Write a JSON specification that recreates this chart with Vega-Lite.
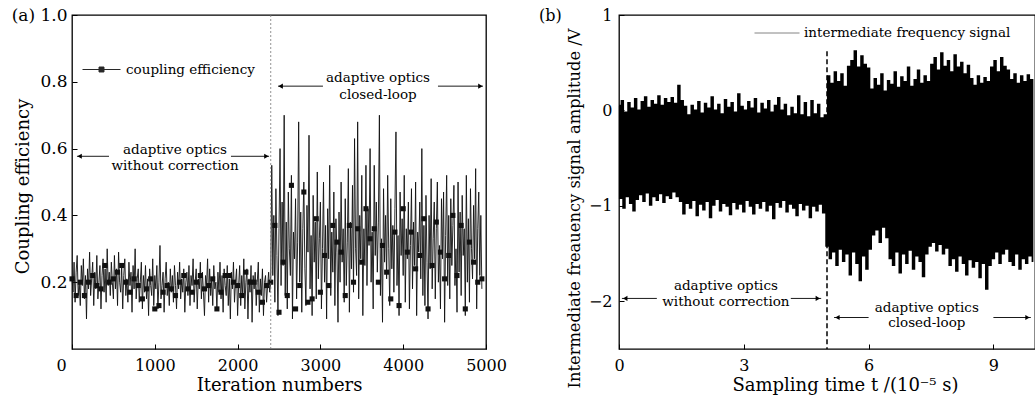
{
  "$schema": "https://vega.github.io/schema/vega-lite/v6.json",
  "background": "white",
  "padding": {"left": 10, "top": 5, "right": 0, "bottom": 0},
  "spacing": 29,
  "config": {
    "font": "DejaVu Serif",
    "view": {"stroke": "black", "strokeWidth": 1.3},
    "axis": {
      "labelFont": "DejaVu Serif", "labelFontSize": 16, "labelColor": "black",
      "titleFont": "DejaVu Serif", "titleFontSize": 18, "titleFontWeight": "normal", "titleColor": "black",
      "tickColor": "black", "tickSize": -5, "tickWidth": 1, "domain": false, "grid": false, "labelFlush": false
    },
    "legend": {"labelFont": "DejaVu Serif", "labelFontSize": 13.5, "labelColor": "black", "labelLimit": 0},
    "text": {"font": "DejaVu Serif", "fontSize": 13.5, "color": "black"}
  },
  "resolve": {"scale": {"color": "independent"}, "legend": {"color": "independent"}},
  "datasets": {
    "a_line": [
      {"x":0,"y":0.21},{"x":12.5,"y":0.17},{"x":25,"y":0.26},{"x":37.5,"y":0.14},{"x":50,"y":0.23},{"x":62.5,"y":0.28},{"x":75,"y":0.16},{"x":87.5,"y":0.2},
      {"x":100,"y":0.13},{"x":112.5,"y":0.25},{"x":125,"y":0.19},{"x":137.5,"y":0.27},{"x":150,"y":0.15},{"x":162.5,"y":0.22},{"x":175,"y":0.09},{"x":187.5,"y":0.24},
      {"x":200,"y":0.18},{"x":212.5,"y":0.29},{"x":225,"y":0.16},{"x":237.5,"y":0.21},{"x":250,"y":0.26},{"x":262.5,"y":0.13},{"x":275,"y":0.23},{"x":287.5,"y":0.18},
      {"x":300,"y":0.28},{"x":312.5,"y":0.15},{"x":325,"y":0.2},{"x":337.5,"y":0.25},{"x":350,"y":0.12},{"x":362.5,"y":0.22},{"x":375,"y":0.27},{"x":387.5,"y":0.17},
      {"x":400,"y":0.24},{"x":412.5,"y":0.14},{"x":425,"y":0.3},{"x":437.5,"y":0.19},{"x":450,"y":0.23},{"x":462.5,"y":0.16},{"x":475,"y":0.26},{"x":487.5,"y":0.2},
      {"x":500,"y":0.15},{"x":512.5,"y":0.28},{"x":525,"y":0.18},{"x":537.5,"y":0.24},{"x":550,"y":0.13},{"x":562.5,"y":0.29},{"x":575,"y":0.2},{"x":587.5,"y":0.17},
      {"x":600,"y":0.25},{"x":612.5,"y":0.12},{"x":625,"y":0.22},{"x":637.5,"y":0.27},{"x":650,"y":0.16},{"x":662.5,"y":0.21},{"x":675,"y":0.14},{"x":687.5,"y":0.26},
      {"x":700,"y":0.19},{"x":712.5,"y":0.23},{"x":725,"y":0.11},{"x":737.5,"y":0.25},{"x":750,"y":0.18},{"x":762.5,"y":0.3},{"x":775,"y":0.15},{"x":787.5,"y":0.21},
      {"x":800,"y":0.24},{"x":812.5,"y":0.14},{"x":825,"y":0.2},{"x":837.5,"y":0.26},{"x":850,"y":0.12},{"x":862.5,"y":0.22},{"x":875,"y":0.17},{"x":887.5,"y":0.25},
      {"x":900,"y":0.15},{"x":912.5,"y":0.21},{"x":925,"y":0.1},{"x":937.5,"y":0.24},{"x":950,"y":0.19},{"x":962.5,"y":0.16},{"x":975,"y":0.27},{"x":987.5,"y":0.13},
      {"x":1000,"y":0.22},{"x":1012.5,"y":0.18},{"x":1025,"y":0.25},{"x":1037.5,"y":0.12},{"x":1050,"y":0.2},{"x":1062.5,"y":0.31},{"x":1075,"y":0.15},{"x":1087.5,"y":0.19},
      {"x":1100,"y":0.23},{"x":1112.5,"y":0.11},{"x":1125,"y":0.21},{"x":1137.5,"y":0.26},{"x":1150,"y":0.16},{"x":1162.5,"y":0.2},{"x":1175,"y":0.13},{"x":1187.5,"y":0.24},
      {"x":1200,"y":0.17},{"x":1212.5,"y":0.22},{"x":1225,"y":0.14},{"x":1237.5,"y":0.25},{"x":1250,"y":0.19},{"x":1262.5,"y":0.12},{"x":1275,"y":0.23},{"x":1287.5,"y":0.18},
      {"x":1300,"y":0.26},{"x":1312.5,"y":0.15},{"x":1325,"y":0.21},{"x":1337.5,"y":0.17},{"x":1350,"y":0.24},{"x":1362.5,"y":0.11},{"x":1375,"y":0.2},{"x":1387.5,"y":0.23},
      {"x":1400,"y":0.16},{"x":1412.5,"y":0.25},{"x":1425,"y":0.13},{"x":1437.5,"y":0.22},{"x":1450,"y":0.19},{"x":1462.5,"y":0.27},{"x":1475,"y":0.14},{"x":1487.5,"y":0.2},
      {"x":1500,"y":0.24},{"x":1512.5,"y":0.12},{"x":1525,"y":0.21},{"x":1537.5,"y":0.18},{"x":1550,"y":0.26},{"x":1562.5,"y":0.15},{"x":1575,"y":0.23},{"x":1587.5,"y":0.17},
      {"x":1600,"y":0.1},{"x":1612.5,"y":0.22},{"x":1625,"y":0.19},{"x":1637.5,"y":0.27},{"x":1650,"y":0.14},{"x":1662.5,"y":0.24},{"x":1675,"y":0.16},{"x":1687.5,"y":0.21},
      {"x":1700,"y":0.13},{"x":1712.5,"y":0.25},{"x":1725,"y":0.18},{"x":1737.5,"y":0.2},{"x":1750,"y":0.12},{"x":1762.5,"y":0.23},{"x":1775,"y":0.17},{"x":1787.5,"y":0.26},
      {"x":1800,"y":0.15},{"x":1812.5,"y":0.22},{"x":1825,"y":0.11},{"x":1837.5,"y":0.24},{"x":1850,"y":0.19},{"x":1862.5,"y":0.16},{"x":1875,"y":0.25},{"x":1887.5,"y":0.13},
      {"x":1900,"y":0.21},{"x":1912.5,"y":0.09},{"x":1925,"y":0.23},{"x":1937.5,"y":0.18},{"x":1950,"y":0.26},{"x":1962.5,"y":0.14},{"x":1975,"y":0.2},{"x":1987.5,"y":0.24},
      {"x":2000,"y":0.1},{"x":2012.5,"y":0.19},{"x":2025,"y":0.25},{"x":2037.5,"y":0.13},{"x":2050,"y":0.22},{"x":2062.5,"y":0.16},{"x":2075,"y":0.27},{"x":2087.5,"y":0.12},
      {"x":2100,"y":0.2},{"x":2112.5,"y":0.24},{"x":2125,"y":0.09},{"x":2137.5,"y":0.21},{"x":2150,"y":0.17},{"x":2162.5,"y":0.25},{"x":2175,"y":0.08},{"x":2187.5,"y":0.22},
      {"x":2200,"y":0.18},{"x":2212.5,"y":0.23},{"x":2225,"y":0.13},{"x":2237.5,"y":0.2},{"x":2250,"y":0.26},{"x":2262.5,"y":0.11},{"x":2275,"y":0.21},{"x":2287.5,"y":0.16},
      {"x":2300,"y":0.24},{"x":2312.5,"y":0.1},{"x":2325,"y":0.2},{"x":2337.5,"y":0.22},{"x":2350,"y":0.14},{"x":2362.5,"y":0.19},{"x":2375,"y":0.23},{"x":2387.5,"y":0.17},
      {"x":2400,"y":0.2},{"x":2412.5,"y":0.55},{"x":2425,"y":0.22},{"x":2437.5,"y":0.4},{"x":2450,"y":0.14},{"x":2462.5,"y":0.48},{"x":2475,"y":0.28},{"x":2487.5,"y":0.1},
      {"x":2500,"y":0.36},{"x":2512.5,"y":0.6},{"x":2525,"y":0.19},{"x":2537.5,"y":0.44},{"x":2550,"y":0.25},{"x":2562.5,"y":0.7},{"x":2575,"y":0.16},{"x":2587.5,"y":0.38},
      {"x":2600,"y":0.12},{"x":2612.5,"y":0.47},{"x":2625,"y":0.3},{"x":2637.5,"y":0.22},{"x":2650,"y":0.52},{"x":2662.5,"y":0.09},{"x":2675,"y":0.35},{"x":2687.5,"y":0.27},
      {"x":2700,"y":0.45},{"x":2712.5,"y":0.15},{"x":2725,"y":0.32},{"x":2737.5,"y":0.68},{"x":2750,"y":0.2},{"x":2762.5,"y":0.41},{"x":2775,"y":0.11},{"x":2787.5,"y":0.36},
      {"x":2800,"y":0.5},{"x":2812.5,"y":0.24},{"x":2825,"y":0.13},{"x":2837.5,"y":0.43},{"x":2850,"y":0.29},{"x":2862.5,"y":0.64},{"x":2875,"y":0.18},{"x":2887.5,"y":0.34},
      {"x":2900,"y":0.1},{"x":2912.5,"y":0.46},{"x":2925,"y":0.26},{"x":2937.5,"y":0.38},{"x":2950,"y":0.15},{"x":2962.5,"y":0.53},{"x":2975,"y":0.21},{"x":2987.5,"y":0.33},
      {"x":3000,"y":0.44},{"x":3012.5,"y":0.12},{"x":3025,"y":0.3},{"x":3037.5,"y":0.5},{"x":3050,"y":0.2},{"x":3062.5,"y":0.37},{"x":3075,"y":0.09},{"x":3087.5,"y":0.42},
      {"x":3100,"y":0.27},{"x":3112.5,"y":0.55},{"x":3125,"y":0.16},{"x":3137.5,"y":0.35},{"x":3150,"y":0.23},{"x":3162.5,"y":0.47},{"x":3175,"y":0.13},{"x":3187.5,"y":0.39},
      {"x":3200,"y":0.29},{"x":3212.5,"y":0.08},{"x":3225,"y":0.41},{"x":3237.5,"y":0.2},{"x":3250,"y":0.5},{"x":3262.5,"y":0.26},{"x":3275,"y":0.36},{"x":3287.5,"y":0.14},
      {"x":3300,"y":0.45},{"x":3312.5,"y":0.19},{"x":3325,"y":0.32},{"x":3337.5,"y":0.54},{"x":3350,"y":0.11},{"x":3362.5,"y":0.38},{"x":3375,"y":0.24},{"x":3387.5,"y":0.49},
      {"x":3400,"y":0.17},{"x":3412.5,"y":0.63},{"x":3425,"y":0.3},{"x":3437.5,"y":0.22},{"x":3450,"y":0.68},{"x":3462.5,"y":0.15},{"x":3475,"y":0.4},{"x":3487.5,"y":0.27},
      {"x":3500,"y":0.52},{"x":3512.5,"y":0.1},{"x":3525,"y":0.36},{"x":3537.5,"y":0.25},{"x":3550,"y":0.55},{"x":3562.5,"y":0.19},{"x":3575,"y":0.42},{"x":3587.5,"y":0.31},
      {"x":3600,"y":0.6},{"x":3612.5,"y":0.2},{"x":3625,"y":0.35},{"x":3637.5,"y":0.12},{"x":3650,"y":0.55},{"x":3662.5,"y":0.28},{"x":3675,"y":0.44},{"x":3687.5,"y":0.23},
      {"x":3700,"y":0.38},{"x":3712.5,"y":0.7},{"x":3725,"y":0.16},{"x":3737.5,"y":0.33},{"x":3750,"y":0.08},{"x":3762.5,"y":0.48},{"x":3775,"y":0.26},{"x":3787.5,"y":0.4},
      {"x":3800,"y":0.21},{"x":3812.5,"y":0.52},{"x":3825,"y":0.3},{"x":3837.5,"y":0.13},{"x":3850,"y":0.45},{"x":3862.5,"y":0.24},{"x":3875,"y":0.37},{"x":3887.5,"y":0.17},
      {"x":3900,"y":0.42},{"x":3912.5,"y":0.65},{"x":3925,"y":0.19},{"x":3937.5,"y":0.34},{"x":3950,"y":0.1},{"x":3962.5,"y":0.47},{"x":3975,"y":0.28},{"x":3987.5,"y":0.39},
      {"x":4000,"y":0.22},{"x":4012.5,"y":0.52},{"x":4025,"y":0.14},{"x":4037.5,"y":0.36},{"x":4050,"y":0.27},{"x":4062.5,"y":0.44},{"x":4075,"y":0.12},{"x":4087.5,"y":0.31},
      {"x":4100,"y":0.48},{"x":4112.5,"y":0.18},{"x":4125,"y":0.38},{"x":4137.5,"y":0.25},{"x":4150,"y":0.5},{"x":4162.5,"y":0.1},{"x":4175,"y":0.35},{"x":4187.5,"y":0.29},
      {"x":4200,"y":0.44},{"x":4212.5,"y":0.21},{"x":4225,"y":0.6},{"x":4237.5,"y":0.16},{"x":4250,"y":0.37},{"x":4262.5,"y":0.13},{"x":4275,"y":0.46},{"x":4287.5,"y":0.26},
      {"x":4300,"y":0.09},{"x":4312.5,"y":0.4},{"x":4325,"y":0.24},{"x":4337.5,"y":0.51},{"x":4350,"y":0.18},{"x":4362.5,"y":0.33},{"x":4375,"y":0.44},{"x":4387.5,"y":0.15},
      {"x":4400,"y":0.36},{"x":4412.5,"y":0.5},{"x":4425,"y":0.2},{"x":4437.5,"y":0.31},{"x":4450,"y":0.12},{"x":4462.5,"y":0.45},{"x":4475,"y":0.27},{"x":4487.5,"y":0.47},
      {"x":4500,"y":0.08},{"x":4512.5,"y":0.34},{"x":4525,"y":0.52},{"x":4537.5,"y":0.19},{"x":4550,"y":0.4},{"x":4562.5,"y":0.15},{"x":4575,"y":0.45},{"x":4587.5,"y":0.25},
      {"x":4600,"y":0.37},{"x":4612.5,"y":0.49},{"x":4625,"y":0.19},{"x":4637.5,"y":0.3},{"x":4650,"y":0.11},{"x":4662.5,"y":0.5},{"x":4675,"y":0.23},{"x":4687.5,"y":0.41},
      {"x":4700,"y":0.16},{"x":4712.5,"y":0.46},{"x":4725,"y":0.28},{"x":4737.5,"y":0.36},{"x":4750,"y":0.1},{"x":4762.5,"y":0.52},{"x":4775,"y":0.2},{"x":4787.5,"y":0.39},
      {"x":4800,"y":0.14},{"x":4812.5,"y":0.48},{"x":4825,"y":0.3},{"x":4837.5,"y":0.21},{"x":4850,"y":0.43},{"x":4862.5,"y":0.27},{"x":4875,"y":0.54},{"x":4887.5,"y":0.12},
      {"x":4900,"y":0.36},{"x":4912.5,"y":0.47},{"x":4925,"y":0.22},{"x":4937.5,"y":0.4},{"x":4950,"y":0.18}
    ],
    "a_sq": [
      {"x":0,"y":0.21},{"x":50,"y":0.16},{"x":100,"y":0.2},{"x":150,"y":0.16},{"x":200,"y":0.2},{"x":250,"y":0.22},{"x":300,"y":0.19},{"x":350,"y":0.18},{"x":400,"y":0.25},{"x":450,"y":0.2},
      {"x":500,"y":0.21},{"x":550,"y":0.23},{"x":600,"y":0.25},{"x":650,"y":0.2},{"x":700,"y":0.17},{"x":750,"y":0.21},{"x":800,"y":0.19},{"x":850,"y":0.15},{"x":900,"y":0.18},{"x":950,"y":0.21},
      {"x":1000,"y":0.12},{"x":1050,"y":0.13},{"x":1100,"y":0.17},{"x":1150,"y":0.19},{"x":1200,"y":0.18},{"x":1250,"y":0.16},{"x":1300,"y":0.2},{"x":1350,"y":0.22},{"x":1400,"y":0.18},{"x":1450,"y":0.17},
      {"x":1500,"y":0.2},{"x":1550,"y":0.22},{"x":1600,"y":0.18},{"x":1650,"y":0.19},{"x":1700,"y":0.21},{"x":1750,"y":0.12},{"x":1800,"y":0.17},{"x":1850,"y":0.22},{"x":1900,"y":0.22},{"x":1950,"y":0.2},
      {"x":2000,"y":0.19},{"x":2050,"y":0.16},{"x":2100,"y":0.23},{"x":2150,"y":0.2},{"x":2200,"y":0.2},{"x":2250,"y":0.17},{"x":2300,"y":0.14},{"x":2350,"y":0.19},{"x":2400,"y":0.2},
      {"x":2450,"y":0.37},{"x":2500,"y":0.11},{"x":2550,"y":0.26},{"x":2600,"y":0.16},{"x":2650,"y":0.49},{"x":2700,"y":0.12},{"x":2750,"y":0.19},{"x":2800,"y":0.47},{"x":2850,"y":0.14},{"x":2900,"y":0.15},
      {"x":2950,"y":0.39},{"x":3000,"y":0.17},{"x":3050,"y":0.28},{"x":3100,"y":0.19},{"x":3150,"y":0.37},{"x":3200,"y":0.32},{"x":3250,"y":0.29},{"x":3300,"y":0.16},{"x":3350,"y":0.37},{"x":3400,"y":0.2},
      {"x":3450,"y":0.36},{"x":3500,"y":0.26},{"x":3550,"y":0.42},{"x":3600,"y":0.33},{"x":3650,"y":0.36},{"x":3700,"y":0.2},{"x":3750,"y":0.31},{"x":3800,"y":0.23},{"x":3850,"y":0.15},{"x":3900,"y":0.35},
      {"x":3950,"y":0.13},{"x":4000,"y":0.42},{"x":4050,"y":0.29},{"x":4100,"y":0.35},{"x":4150,"y":0.24},{"x":4200,"y":0.28},{"x":4250,"y":0.39},{"x":4300,"y":0.12},{"x":4350,"y":0.25},{"x":4400,"y":0.38},
      {"x":4450,"y":0.29},{"x":4500,"y":0.21},{"x":4550,"y":0.28},{"x":4600,"y":0.4},{"x":4650,"y":0.22},{"x":4700,"y":0.37},{"x":4750,"y":0.12},{"x":4800,"y":0.32},{"x":4850,"y":0.26},{"x":4900,"y":0.2},{"x":4950,"y":0.21}
    ],
    "a_split": [{"x":2400,"y":0,"y2":1}],
    "a_arrows": [
      {"x":3031,"x2":2488,"y":0.787},{"x":4420,"x2":4964,"y":0.787},
      {"x":447,"x2":60,"y":0.577},{"x":1920,"x2":2380,"y":0.577}
    ],
    "a_heads": [
      {"x":2520,"y":0.787,"dir":"left"},{"x":4932,"y":0.787,"dir":"right"},
      {"x":92,"y":0.577,"dir":"left"},{"x":2348,"y":0.577,"dir":"right"}
    ],
    "a_text": [
      {"x":3696,"y":0.81,"label":"adaptive optics"},{"x":3696,"y":0.76,"label":"closed-loop"},
      {"x":1244,"y":0.595,"label":"adaptive optics"},{"x":1244,"y":0.547,"label":"without correction"}
    ],
    "b_sig": [
      {"x":0,"y":0.05},{"x":0.04,"y":-0.92},{"x":0.08,"y":0.1},{"x":0.12,"y":-1.02},{"x":0.16,"y":-0.02},{"x":0.2,"y":-0.9},{"x":0.24,"y":0.08},{"x":0.28,"y":-0.97},{"x":0.32,"y":0.02},{"x":0.36,"y":-1.05},
      {"x":0.4,"y":0.12},{"x":0.44,"y":-0.93},{"x":0.48,"y":0.0},{"x":0.52,"y":-0.88},{"x":0.56,"y":0.09},{"x":0.6,"y":-0.95},{"x":0.64,"y":0.14},{"x":0.68,"y":-0.86},{"x":0.72,"y":0.03},{"x":0.76,"y":-0.99},
      {"x":0.8,"y":0.1},{"x":0.84,"y":-0.9},{"x":0.88,"y":0.06},{"x":0.92,"y":-0.94},{"x":0.96,"y":0.15},{"x":1.0,"y":-0.87},{"x":1.04,"y":0.05},{"x":1.08,"y":-0.96},{"x":1.12,"y":0.12},{"x":1.16,"y":-0.89},
      {"x":1.2,"y":0.08},{"x":1.24,"y":-0.92},{"x":1.28,"y":0.13},{"x":1.32,"y":-0.85},{"x":1.36,"y":0.07},{"x":1.4,"y":-0.9},{"x":1.44,"y":0.26},{"x":1.48,"y":-0.95},{"x":1.52,"y":0.1},{"x":1.56,"y":-1.08},
      {"x":1.6,"y":0.04},{"x":1.64,"y":-0.97},{"x":1.68,"y":-0.05},{"x":1.72,"y":-1.02},{"x":1.76,"y":0.05},{"x":1.8,"y":-0.94},{"x":1.84,"y":0.0},{"x":1.88,"y":-1.1},{"x":1.92,"y":0.09},{"x":1.96,"y":-0.98},
      {"x":2.0,"y":-0.03},{"x":2.04,"y":-1.04},{"x":2.08,"y":0.07},{"x":2.12,"y":-0.95},{"x":2.16,"y":0.02},{"x":2.2,"y":-1.12},{"x":2.24,"y":0.14},{"x":2.28,"y":-0.99},{"x":2.32,"y":0.0},{"x":2.36,"y":-0.93},
      {"x":2.4,"y":0.06},{"x":2.44,"y":-1.05},{"x":2.48,"y":-0.04},{"x":2.52,"y":-0.97},{"x":2.56,"y":0.11},{"x":2.6,"y":-1.0},{"x":2.64,"y":0.03},{"x":2.68,"y":-1.09},{"x":2.72,"y":0.08},{"x":2.76,"y":-0.96},
      {"x":2.8,"y":-0.02},{"x":2.84,"y":-1.03},{"x":2.88,"y":0.17},{"x":2.92,"y":-0.98},{"x":2.96,"y":0.04},{"x":3.0,"y":-1.06},{"x":3.04,"y":0.0},{"x":3.08,"y":-0.94},{"x":3.12,"y":0.09},{"x":3.16,"y":-1.0},
      {"x":3.2,"y":0.02},{"x":3.24,"y":-1.08},{"x":3.28,"y":0.12},{"x":3.32,"y":-0.97},{"x":3.36,"y":-0.03},{"x":3.4,"y":-1.02},{"x":3.44,"y":0.07},{"x":3.48,"y":-0.95},{"x":3.52,"y":0.01},{"x":3.56,"y":-1.05},
      {"x":3.6,"y":0.1},{"x":3.64,"y":-0.99},{"x":3.68,"y":-0.02},{"x":3.72,"y":-1.13},{"x":3.76,"y":0.05},{"x":3.8,"y":-0.96},{"x":3.84,"y":0.13},{"x":3.88,"y":-1.01},{"x":3.92,"y":0.0},{"x":3.96,"y":-0.94},
      {"x":4.0,"y":0.06},{"x":4.04,"y":-1.06},{"x":4.08,"y":-0.06},{"x":4.12,"y":-0.98},{"x":4.16,"y":0.03},{"x":4.2,"y":-1.02},{"x":4.24,"y":-0.04},{"x":4.28,"y":-1.1},{"x":4.32,"y":0.15},{"x":4.36,"y":-0.97},
      {"x":4.4,"y":-0.05},{"x":4.44,"y":-1.04},{"x":4.48,"y":0.08},{"x":4.52,"y":-0.99},{"x":4.56,"y":-0.07},{"x":4.6,"y":-1.12},{"x":4.64,"y":0.1},{"x":4.68,"y":-1.0},{"x":4.72,"y":-0.04},{"x":4.76,"y":-1.05},
      {"x":4.8,"y":0.06},{"x":4.84,"y":-0.98},{"x":4.88,"y":-0.08},{"x":4.92,"y":-1.07},{"x":4.96,"y":-0.05},{"x":5.0,"y":-1.42},{"x":5.04,"y":0.36},{"x":5.08,"y":-1.55},{"x":5.12,"y":0.28},{"x":5.16,"y":-1.48},
      {"x":5.2,"y":0.4},{"x":5.24,"y":-1.62},{"x":5.28,"y":0.3},{"x":5.32,"y":-1.45},{"x":5.36,"y":0.38},{"x":5.4,"y":-1.58},{"x":5.44,"y":0.25},{"x":5.48,"y":-1.5},{"x":5.52,"y":0.46},{"x":5.56,"y":-1.72},
      {"x":5.6,"y":0.52},{"x":5.64,"y":-1.48},{"x":5.68,"y":0.62},{"x":5.72,"y":-1.6},{"x":5.76,"y":0.45},{"x":5.8,"y":-1.78},{"x":5.84,"y":0.57},{"x":5.88,"y":-1.52},{"x":5.92,"y":0.48},{"x":5.96,"y":-1.66},
      {"x":6.0,"y":0.44},{"x":6.04,"y":-1.45},{"x":6.08,"y":0.22},{"x":6.12,"y":-1.3},{"x":6.16,"y":0.33},{"x":6.2,"y":-1.25},{"x":6.24,"y":0.26},{"x":6.28,"y":-1.38},{"x":6.32,"y":0.38},{"x":6.36,"y":-1.22},
      {"x":6.4,"y":0.2},{"x":6.44,"y":-1.33},{"x":6.48,"y":0.31},{"x":6.52,"y":-1.55},{"x":6.56,"y":0.27},{"x":6.6,"y":-1.62},{"x":6.64,"y":0.4},{"x":6.68,"y":-1.48},{"x":6.72,"y":0.24},{"x":6.76,"y":-1.7},
      {"x":6.8,"y":0.35},{"x":6.84,"y":-1.5},{"x":6.88,"y":0.3},{"x":6.92,"y":-1.6},{"x":6.96,"y":0.45},{"x":7.0,"y":-1.46},{"x":7.04,"y":0.25},{"x":7.08,"y":-1.66},{"x":7.12,"y":0.32},{"x":7.16,"y":-1.52},
      {"x":7.2,"y":0.42},{"x":7.24,"y":-1.58},{"x":7.28,"y":0.28},{"x":7.32,"y":-1.74},{"x":7.36,"y":0.36},{"x":7.4,"y":-1.5},{"x":7.44,"y":0.3},{"x":7.48,"y":-1.42},{"x":7.52,"y":0.48},{"x":7.56,"y":-1.38},
      {"x":7.6,"y":0.55},{"x":7.64,"y":-1.47},{"x":7.68,"y":0.42},{"x":7.72,"y":-1.4},{"x":7.76,"y":0.6},{"x":7.8,"y":-1.5},{"x":7.84,"y":0.46},{"x":7.88,"y":-1.44},{"x":7.92,"y":0.52},{"x":7.96,"y":-1.62},
      {"x":8.0,"y":0.4},{"x":8.04,"y":-1.55},{"x":8.08,"y":0.58},{"x":8.12,"y":-1.68},{"x":8.16,"y":0.45},{"x":8.2,"y":-1.52},{"x":8.24,"y":0.5},{"x":8.28,"y":-1.6},{"x":8.32,"y":0.38},{"x":8.36,"y":-1.72},
      {"x":8.4,"y":0.47},{"x":8.44,"y":-1.56},{"x":8.48,"y":0.33},{"x":8.52,"y":-1.64},{"x":8.56,"y":0.26},{"x":8.6,"y":-1.58},{"x":8.64,"y":0.36},{"x":8.68,"y":-1.75},{"x":8.72,"y":0.28},{"x":8.76,"y":-1.6},
      {"x":8.8,"y":0.34},{"x":8.84,"y":-1.87},{"x":8.88,"y":0.3},{"x":8.92,"y":-1.62},{"x":8.96,"y":0.45},{"x":9.0,"y":-1.55},{"x":9.04,"y":0.52},{"x":9.08,"y":-1.48},{"x":9.12,"y":0.4},{"x":9.16,"y":-1.6},
      {"x":9.2,"y":0.55},{"x":9.24,"y":-1.5},{"x":9.28,"y":0.46},{"x":9.32,"y":-1.45},{"x":9.36,"y":0.42},{"x":9.4,"y":-1.58},{"x":9.44,"y":0.32},{"x":9.48,"y":-1.62},{"x":9.52,"y":0.38},{"x":9.56,"y":-1.5},
      {"x":9.6,"y":0.28},{"x":9.64,"y":-1.66},{"x":9.68,"y":0.36},{"x":9.72,"y":-1.55},{"x":9.76,"y":0.3},{"x":9.8,"y":-1.6},{"x":9.84,"y":0.37},{"x":9.88,"y":-1.52},{"x":9.92,"y":0.32},{"x":9.96,"y":-1.58}
    ],
    "b_split": [{"x":5,"y":0.62,"y2":-2.5}],
    "b_arrows": [
      {"x":0.91,"x2":0.07,"y":-1.97},{"x":4.13,"x2":4.86,"y":-1.97},
      {"x":6.0,"x2":5.17,"y":-2.17},{"x":9.0,"x2":9.9,"y":-2.17}
    ],
    "b_heads": [
      {"x":0.15,"y":-1.97,"dir":"left"},{"x":4.78,"y":-1.97,"dir":"right"},
      {"x":5.25,"y":-2.17,"dir":"left"},{"x":9.82,"y":-2.17,"dir":"right"}
    ],
    "b_text": [
      {"x":2.57,"y":-1.84,"label":"adaptive optics"},{"x":2.57,"y":-2.01,"label":"without correction"},
      {"x":7.4,"y":-2.07,"label":"adaptive optics"},{"x":7.4,"y":-2.23,"label":"closed-loop"}
    ]
  },
  "hconcat": [
    {
      "width": 414,
      "height": 334,
      "encoding": {
        "x": {
          "field": "x", "type": "quantitative",
          "scale": {"domain": [0, 5000], "nice": false, "zero": false},
          "axis": {
            "values": [0, 1000, 2000, 3000, 4000, 5000], "format": "d",
            "title": "Iteration numbers", "labelPadding": 13, "titlePadding": 3,
            "labelOffset": {"condition": {"test": "datum.value == 0", "value": -11}, "value": 0}
          }
        },
        "y": {
          "field": "y", "type": "quantitative",
          "scale": {"domain": [0, 1], "nice": false, "zero": false},
          "axis": {
            "values": [0.2, 0.4, 0.6, 0.8, 1.0], "format": ".1f",
            "labelExpr": "datum.value > 0.99 ? '(a) 1.0' : datum.label",
            "labelPadding": 10, "labelFontSize": 17,
            "title": "Coupling efficiency", "titleX": -49, "titleY": 171, "titleBaseline": "middle"
          }
        }
      },
      "layer": [
        {
          "data": {"name": "a_line"},
          "mark": {"type": "line", "strokeWidth": 1.0, "opacity": 0.9},
          "encoding": {
            "color": {
              "datum": "coupling efficiency",
              "scale": {"range": ["#111111"]},
              "legend": {
                "title": null, "orient": "none", "legendX": 10, "legendY": 35,
                "symbolType": "M-1,0H1M-0.13,-0.13H0.13V0.13H-0.13Z",
                "symbolSize": 1444, "symbolStrokeWidth": 1, "labelOffset": 5
              }
            }
          }
        },
        {
          "data": {"name": "a_sq"},
          "mark": {"type": "point", "shape": "square", "filled": true, "size": 26, "opacity": 1},
          "encoding": {"color": {"datum": "coupling efficiency"}}
        },
        {
          "data": {"name": "a_split"},
          "mark": {"type": "rule", "color": "#777", "strokeWidth": 0.8, "strokeDash": [2, 2]},
          "encoding": {"y2": {"field": "y2"}}
        },
        {
          "data": {"name": "a_arrows"},
          "mark": {"type": "rule", "color": "black", "strokeWidth": 0.9},
          "encoding": {"x2": {"field": "x2"}}
        },
        {
          "data": {"name": "a_heads"},
          "mark": {"type": "point", "filled": true, "color": "black", "size": 26, "opacity": 1},
          "encoding": {
            "shape": {"field": "dir", "type": "nominal", "scale": {"domain": ["left", "right"], "range": ["triangle-left", "triangle-right"]}, "legend": null}
          }
        },
        {
          "data": {"name": "a_text"},
          "mark": {"type": "text", "align": "center", "baseline": "middle", "fontSize": 13.5},
          "encoding": {"text": {"field": "label"}}
        }
      ]
    },
    {
      "width": 416,
      "height": 334,
      "encoding": {
        "x": {
          "field": "x", "type": "quantitative",
          "scale": {"domain": [0, 10], "nice": false, "zero": false},
          "axis": {
            "values": [0, 3, 6, 9], "format": "d",
            "title": "Sampling time t /(10⁻⁵ s)", "labelPadding": 13, "titlePadding": 3, "titleX": 226
          }
        },
        "y": {
          "field": "y", "type": "quantitative",
          "scale": {"domain": [-2.5, 1], "nice": false, "zero": false},
          "axis": {
            "values": [-2, -1, 0, 1], "format": "d",
            "labelExpr": "datum.value == 1 ? '(b)\u00a0\u00a0\u00a0\u00a0\u00a0\u00a0\u00a0\u00a01' : datum.label",
            "labelPadding": 12,
            "title": "Intermediate freauency signal amplitude /V", "titleFontSize": 16.3,
            "titleX": -45, "titleY": 193, "titleBaseline": "middle"
          }
        }
      },
      "layer": [
        {
          "data": {"name": "b_sig"},
          "mark": {"type": "line", "strokeWidth": 1.8, "interpolate": "step"},
          "encoding": {
            "color": {
              "datum": "intermediate frequency signal",
              "scale": {"range": ["black"]},
              "legend": {
                "title": null, "orient": "none", "legendX": 135, "legendY": -5,
                "symbolType": "stroke", "symbolSize": 2025, "symbolStrokeWidth": 0.8, "symbolOpacity": 0.6, "labelOffset": 4
              }
            }
          }
        },
        {
          "data": {"name": "b_split"},
          "mark": {"type": "rule", "color": "black", "strokeWidth": 1.5, "strokeDash": [5, 3]},
          "encoding": {"y2": {"field": "y2"}}
        },
        {
          "data": {"name": "b_arrows"},
          "mark": {"type": "rule", "color": "black", "strokeWidth": 0.9},
          "encoding": {"x2": {"field": "x2"}}
        },
        {
          "data": {"name": "b_heads"},
          "mark": {"type": "point", "filled": true, "color": "black", "size": 26, "opacity": 1},
          "encoding": {
            "shape": {"field": "dir", "type": "nominal", "scale": {"domain": ["left", "right"], "range": ["triangle-left", "triangle-right"]}, "legend": null}
          }
        },
        {
          "data": {"name": "b_text"},
          "mark": {"type": "text", "align": "center", "baseline": "middle", "fontSize": 13.5},
          "encoding": {"text": {"field": "label"}}
        }
      ]
    }
  ]
}
